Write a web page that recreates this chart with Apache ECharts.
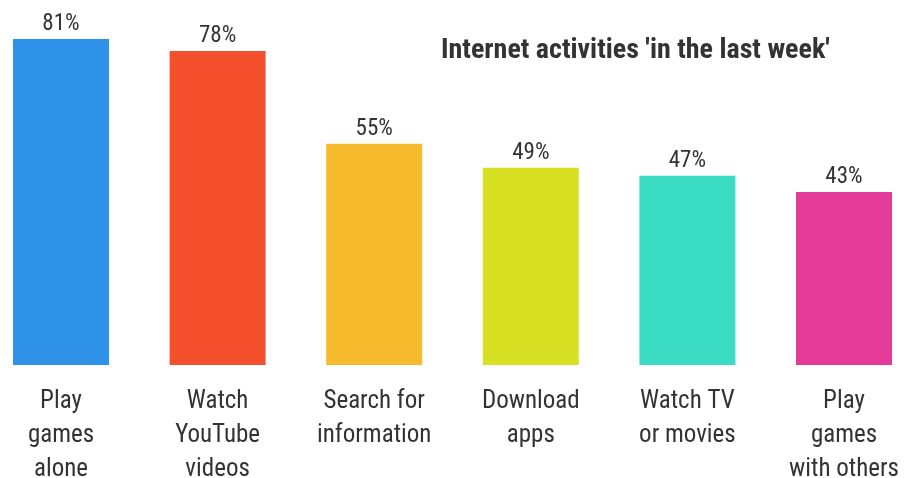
<!DOCTYPE html>
<html>
<head>
<meta charset="utf-8">
<script src="https://cdn.jsdelivr.net/npm/echarts@6/dist/echarts.min.js"></script>
<style>html,body{margin:0;padding:0;background:#fff}#c{width:914px;height:478px}</style>
</head>
<body>
<div id="c"></div>
<script>
const categories = ['Play\ngames\nalone', 'Watch\nYouTube\nvideos', 'Search for\ninformation', 'Download\napps', 'Watch TV\nor movies', 'Play\ngames\nwith others'];
const values = [81, 78, 55, 49, 47, 43];
const colors = ['#2E93E8', '#F4502D', '#F6BA2D', '#D8E023', '#3ADCC4', '#E43A98'];
const titleText = "Internet activities 'in the last week'";

const FONT = "'Roboto Condensed', 'Liberation Sans Narrow', Roboto, sans-serif";
const chart = echarts.init(document.getElementById('c'), null, {renderer: 'canvas'});
chart.setOption({
  animation: false,
  backgroundColor: '#fff',
  title: {
    text: titleText,
    left: 436, top: 32,
    textStyle: {fontFamily: FONT, fontWeight: 'bold', fontSize: 28, color: '#333'}
  },
  grid: {left: 61, right: 70, top: 39, bottom: 113, containLabel: false, outerBoundsMode: 'none'},
  xAxis: {
    type: 'category',
    data: categories,
    boundaryGap: false,
    axisLine: {show: false},
    axisTick: {show: false},
    splitLine: {show: false},
    axisLabel: {interval: 0, margin: 20, fontFamily: FONT, fontSize: 25, lineHeight: 34, color: '#333', align: 'center'}
  },
  yAxis: {type: 'value', min: 0, max: 81, show: false},
  series: [{
    type: 'bar',
    clip: false,
    barWidth: 96,
    data: values.map((v, i) => ({value: v, itemStyle: {color: colors[i]}})),
    label: {show: true, position: 'top', distance: 3, formatter: '{c}%', fontFamily: FONT, fontSize: 23, color: '#333'}
  }]
});
</script>
</body>
</html>
